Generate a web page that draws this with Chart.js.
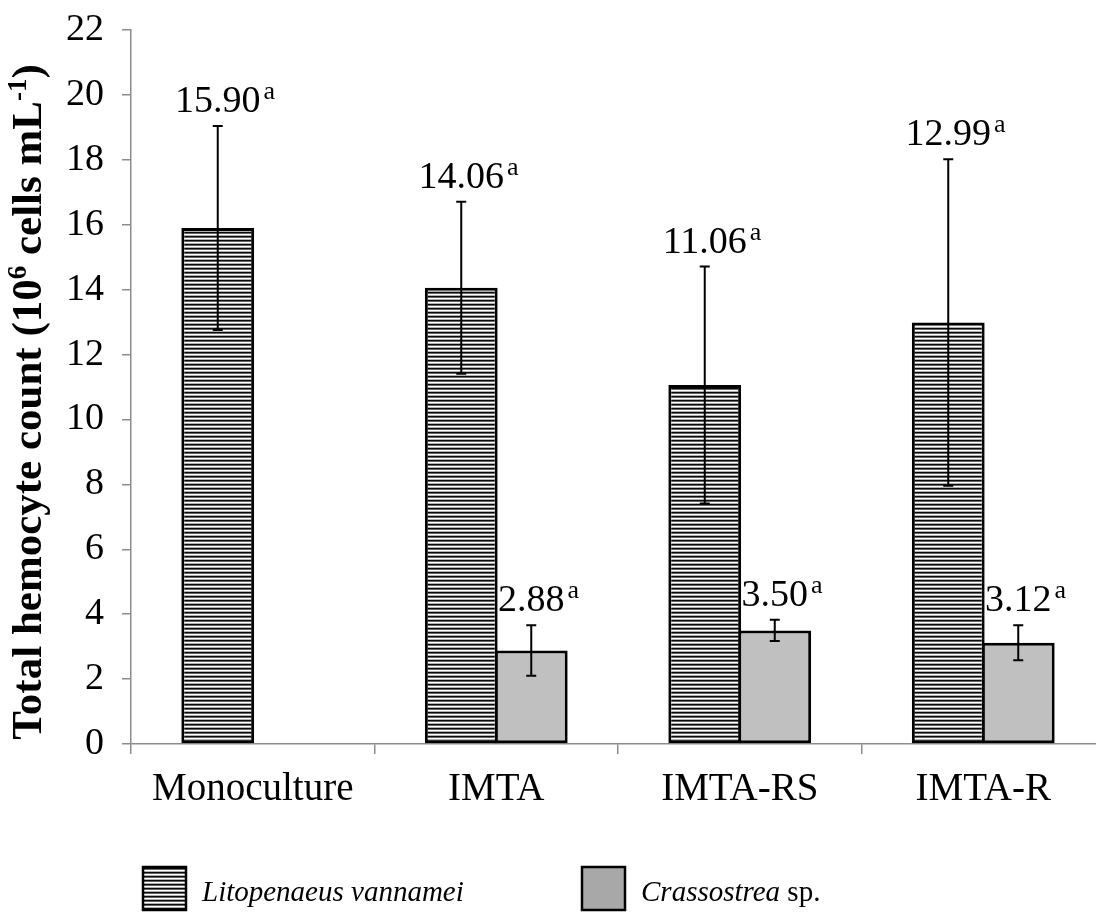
<!DOCTYPE html>
<html>
<head>
<meta charset="utf-8">
<script src="https://cdn.jsdelivr.net/npm/chart.js@4.4.1/dist/chart.umd.min.js"></script>
<style>
  html, body { margin: 0; padding: 0; background: #fff; overflow: hidden; }
  #wrap { width: 1096px; height: 919px; overflow: hidden; }
</style>
</head>
<body>
<div id="wrap"><canvas id="hemocyteChart" width="1105" height="919"></canvas></div>
<script>
// Data
const treatments = ['Monoculture', 'IMTA', 'IMTA-RS', 'IMTA-R'];
const shrimpMeans = [15.90, 14.06, 11.06, 12.99];
const shrimpErrors = [3.14, 2.65, 3.65, 5.03];
const oysterMeans = [null, 2.88, 3.50, 3.12];
const oysterErrors = [null, 0.78, 0.33, 0.54];
const shrimpLetters = ['a', 'a', 'a', 'a'];
const oysterLetters = [null, 'a', 'a', 'a'];
const yTicks = [0, 2, 4, 6, 8, 10, 12, 14, 16, 18, 20, 22];

const serif = "'Liberation Serif', 'Times New Roman', serif";

// Horizontal line hatching for the shrimp bars
function makeHatch() {
  const c = document.createElement('canvas');
  c.width = 8;
  c.height = 4;
  const g = c.getContext('2d');
  const rows = ['#0a0a0a', '#666666', '#ffffff', '#b0b0b0'];
  rows.forEach((col, r) => {
    g.fillStyle = col;
    g.fillRect(0, r, 8, 1);
  });
  return g.createPattern(c, 'repeat');
}
const ctx = document.getElementById('hemocyteChart').getContext('2d');
const hatch = makeHatch();

// Error bars + value labels with superscript letters
const errorBarPlugin = {
  id: 'errorBars',
  afterDatasetsDraw(chart) {
    const y = chart.scales.y;
    const g = chart.ctx;
    chart.data.datasets.forEach((ds, i) => {
      const meta = chart.getDatasetMeta(i);
      meta.data.forEach((bar, j) => {
        const v = ds.data[j];
        if (v === null) return;
        const e = ds.errors[j];
        const top = y.getPixelForValue(v + e);
        const bot = y.getPixelForValue(v - e);
        g.save();
        g.strokeStyle = '#000';
        g.lineWidth = 2;
        g.beginPath();
        g.moveTo(bar.x, top); g.lineTo(bar.x, bot);
        g.moveTo(bar.x - 5, top); g.lineTo(bar.x + 5, top);
        g.moveTo(bar.x - 5, bot); g.lineTo(bar.x + 5, bot);
        g.stroke();

        // label
        const txt = v.toFixed(2);
        g.fillStyle = '#000';
        g.font = '38px ' + serif;
        g.textAlign = 'center';
        g.textBaseline = 'alphabetic';
        const base = top - 14;
        g.fillText(txt, bar.x, base);
        const w = g.measureText(txt).width;
        g.font = '26px ' + serif;
        g.textAlign = 'left';
        g.fillText(ds.letters[j], bar.x + w / 2 + 3, base - 13);
        g.restore();
      });
    });
  }
};

// Rotated y title, drawn so it can sit a bit lower than the axis centre
const yTitleParts = [['Total hemocyte count (10', 0], ['6', 1], [' cells mL', 0], ['-1', 1], [')', 0]];
const yTitlePlugin = {
  id: 'yTitle',
  afterDraw(chart) {
    const g = chart.ctx;
    g.save();
    g.translate(30, 402);
    g.rotate(-Math.PI / 2);
    g.fillStyle = '#000';
    g.textBaseline = 'middle';
    g.textAlign = 'left';
    const big = 'bold 43px ' + serif, small = 'bold 27px ' + serif;
    let total = 0;
    yTitleParts.forEach(([t, sup]) => { g.font = sup ? small : big; total += g.measureText(t).width; });
    let x = -total / 2;
    yTitleParts.forEach(([t, sup]) => {
      g.font = sup ? small : big;
      g.fillText(t, x, sup ? -11 : 0);
      x += g.measureText(t).width;
    });
    g.restore();
  }
};

// Legend drawn under the plot, with mixed italic / upright text
const legendItems = [
  { parts: [['Litopenaeus vannamei', true]], x: 143 },
  { parts: [['Crassostrea', true], [' sp.', false]], x: 582 }
];
const legendFills = [hatch, '#a8a8a8'];
const legendPlugin = {
  id: 'bottomLegend',
  afterDraw(chart) {
    const g = chart.ctx;
    g.save();
    legendItems.forEach((item, i) => {
      const bx = item.x, by = 867, s = 43;
      g.fillStyle = legendFills[i];
      g.fillRect(bx, by, s, s);
      g.strokeStyle = '#000';
      g.lineWidth = 2.5;
      g.strokeRect(bx, by, s, s);
      let tx = bx + s + 16;
      g.fillStyle = '#000';
      g.textBaseline = 'alphabetic';
      g.textAlign = 'left';
      item.parts.forEach(([t, it]) => {
        g.font = (it ? 'italic ' : '') + '29px ' + serif;
        g.fillText(t, tx, by + 34);
        tx += g.measureText(t).width;
      });
    });
    g.restore();
  }
};

new Chart(ctx, {
  type: 'bar',
  data: {
    labels: treatments,
    datasets: [
      {
        label: 'Litopenaeus vannamei',
        data: shrimpMeans,
        errors: shrimpErrors,
        letters: shrimpLetters,
        backgroundColor: hatch,
        borderColor: '#000',
        borderWidth: 3,
        borderSkipped: false
      },
      {
        label: 'Crassostrea sp.',
        data: oysterMeans,
        errors: oysterErrors,
        letters: oysterLetters,
        backgroundColor: '#c0c0c0',
        borderColor: '#000',
        borderWidth: 3,
        borderSkipped: false
      }
    ]
  },
  options: {
    responsive: false,
    animation: false,
    layout: { padding: { top: 30, left: 0, right: 0, bottom: 105 } },
    datasets: { bar: { categoryPercentage: 0.575, barPercentage: 1.04 } },
    plugins: { legend: { display: false }, tooltip: { enabled: false } },
    scales: {
      x: {
        afterFit(s) { s.height = 70; },
        grid: { offset: true, drawOnChartArea: false, tickLength: 10, color: '#8c8c8c', lineWidth: 1.5 },
        border: { color: '#8c8c8c', width: 1.5 },
        ticks: { color: '#000', font: { family: serif, size: 39 }, padding: 12 }
      },
      y: {
        min: 0,
        max: 22,
        afterFit(s) { s.width = 131; },
        afterBuildTicks(s) { s.ticks = yTicks.map(v => ({ value: v })); },
        grid: { drawOnChartArea: false, tickLength: 9, color: '#8c8c8c', lineWidth: 1.5 },
        border: { color: '#8c8c8c', width: 1.5 },
        ticks: { color: '#000', font: { family: serif, size: 38, lineHeight: 0.6 }, padding: 18 }
      }
    }
  },
  plugins: [errorBarPlugin, yTitlePlugin, legendPlugin]
});
</script>
</body>
</html>
